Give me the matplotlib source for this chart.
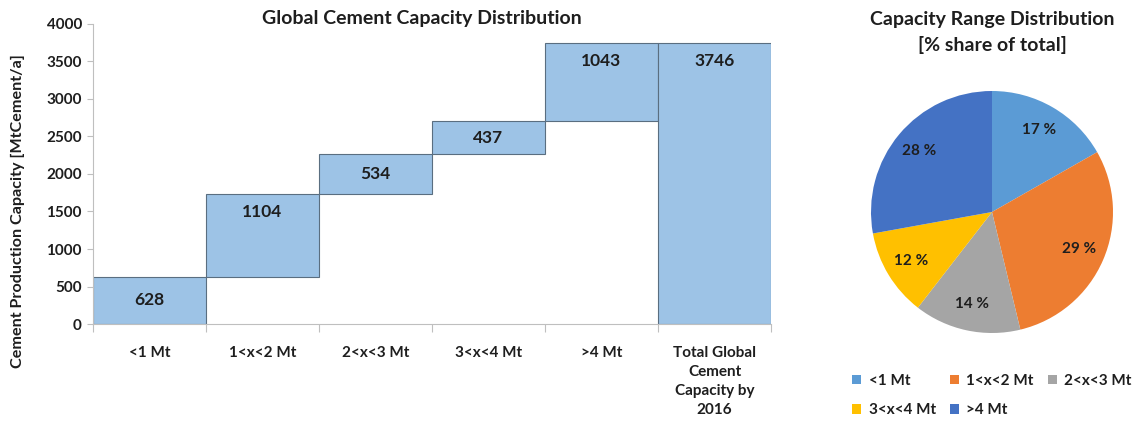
import numpy as np
import matplotlib
matplotlib.use("Agg")
import matplotlib.pyplot as plt

plt.rcParams['font.family'] = ['Lato', 'DejaVu Sans']
plt.rcParams['font.weight'] = 'bold'

# capacity per plant size class, MtCement/a
categories = ['<1 Mt', '1<x<2 Mt', '2<x<3 Mt', '3<x<4 Mt', '>4 Mt']
capacity = [628, 1104, 534, 437, 1043]
total_label = 'Total Global\nCement\nCapacity by\n2016'
total = 3746

pie_colors = ['#5B9BD5', '#ED7D31', '#A5A5A5', '#FFC000', '#4472C4']
bar_face = '#9DC3E6'
bar_edge = '#5A6E80'
text_color = '#1E1E1E'


def main():
    fig = plt.figure(figsize=(11.37, 4.21), dpi=100)

    # waterfall
    ax = fig.add_axes([0.0818, 0.2304, 0.5963, 0.7126])
    bottoms = np.concatenate([[0], np.cumsum(capacity)[:-1]])
    x = np.arange(len(categories) + 1)
    heights = capacity + [total]
    bases = list(bottoms) + [0]
    ax.bar(x, heights, bottom=bases, width=1.0, color=bar_face,
           edgecolor=bar_edge, linewidth=0.8)
    for xi, h, b in zip(x, heights, bases):
        top = b + h
        y = b + h / 2 if h < 700 else top - 240
        ax.text(xi, y, str(h), ha='center', va='center', fontsize=12.5,
                fontweight='bold', color=text_color)

    ax.set_xlim(-0.5, len(x) - 0.5)
    ax.set_ylim(0, 4000)
    ax.set_yticks(np.arange(0, 4001, 500))
    ax.set_xticks(x)
    ax.set_xticklabels(categories + [total_label], va='top', linespacing=1.45)
    ax.set_xticks(np.arange(-0.5, len(x)), minor=True)
    ax.tick_params(axis='x', which='major', length=0, pad=16, labelsize=11)
    ax.tick_params(axis='x', which='minor', length=6, color='#BFBFBF', width=0.8)
    ax.tick_params(axis='y', length=4, color='#BFBFBF', labelsize=11, pad=4)
    for lbl in ax.get_xticklabels() + ax.get_yticklabels():
        lbl.set_fontweight('bold')
        lbl.set_color(text_color)
    for s in ['top', 'right']:
        ax.spines[s].set_visible(False)
    for s in ['left', 'bottom']:
        ax.spines[s].set_color('#BFBFBF')
        ax.spines[s].set_linewidth(0.8)
    fig.text(18 / 1137, 1 - 211 / 421, 'Cement Production Capacity [MtCement/a]',
             rotation=90, ha='center', va='center', fontsize=11.6,
             fontweight='bold', color=text_color)
    fig.text(0.371, 0.957, 'Global Cement Capacity Distribution', ha='center',
             va='center', fontsize=14, fontweight='bold', color=text_color)

    # pie of shares
    pax = fig.add_axes([(992 - 121) / 1137, (421 - 212 - 121) / 421,
                        242 / 1137, 242 / 421])
    wedges, texts, autotexts = pax.pie(
        capacity, colors=pie_colors, startangle=90, counterclock=False,
        autopct=lambda p: '%d %%' % round(p), pctdistance=0.78,
        wedgeprops=dict(linewidth=0))
    for t in autotexts:
        t.set_fontsize(11)
        t.set_fontweight('bold')
        t.set_color(text_color)
    pax.set_xlim(-1, 1)
    pax.set_ylim(-1, 1)
    pax.set_aspect('equal')
    fig.text(992 / 1137, 1 - 20 / 421, 'Capacity Range Distribution',
             ha='center', va='center', fontsize=14, fontweight='bold',
             color=text_color)
    fig.text(992 / 1137, 1 - 45 / 421, '[% share of total]',
             ha='center', va='center', fontsize=14, fontweight='bold',
             color=text_color)

    # legend filled row by row
    order = [0, 3, 1, 4, 2]
    leg = fig.legend([wedges[i] for i in order], [categories[i] for i in order],
                     ncol=3, loc='upper left',
                     bbox_to_anchor=(852 / 1137, 1 - 374 / 421),
                     frameon=False, fontsize=11, handlelength=0.6,
                     handleheight=0.6, handletextpad=0.5, columnspacing=0.9,
                     labelspacing=1.0, borderaxespad=0, borderpad=0)
    for t in leg.get_texts():
        t.set_fontweight('bold')
        t.set_color(text_color)

    fig.savefig('out.png', dpi=100)


if __name__ == "__main__":
    main()
